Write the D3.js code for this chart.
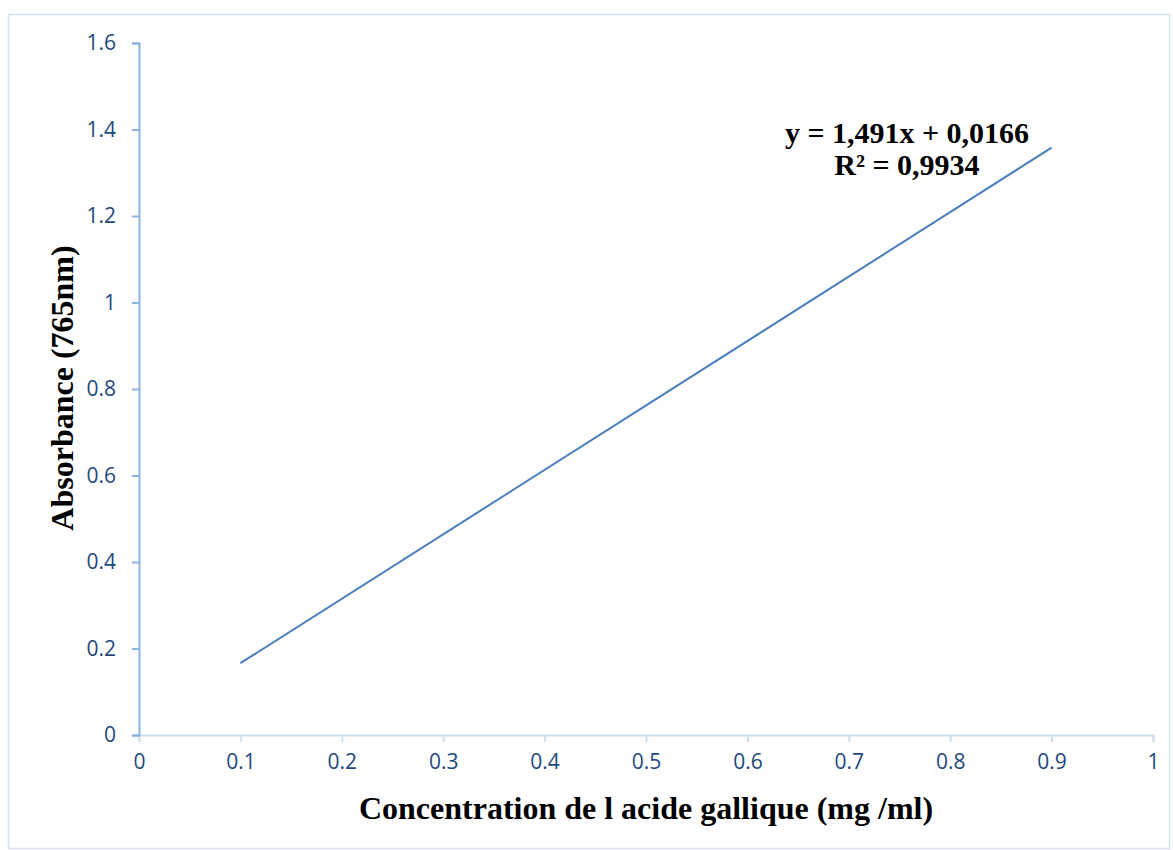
<!DOCTYPE html>
<html>
<head>
<meta charset="UTF-8">
<title></title>
<script src="https://cdn.jsdelivr.net/npm/d3@7"></script>
<style>
  body { margin: 0; background: #fff; }
</style>
</head>
<body>
<div id="chart"></div>
<script>
// data
var xValues = [0.1, 0.9];
var yValues = [0.166, 1.358];
var xTicks = [0, 0.1, 0.2, 0.3, 0.4, 0.5, 0.6, 0.7, 0.8, 0.9, 1];
var yTicks = [0, 0.2, 0.4, 0.6, 0.8, 1, 1.2, 1.4, 1.6];
var equationLines = ["y = 1,491x + 0,0166", "R\u00b2 = 0,9934"];
var xTitle = "Concentration de l acide gallique (mg /ml)";
var yTitle = "Absorbance (765nm)";

var width = 1173, height = 850;
var margin = { left: 139, right: 20, top: 43, bottom: 115 };

var svg = d3.select("#chart").append("svg")
  .attr("width", width).attr("height", height);

// outer border
svg.append("rect")
  .attr("x", 8.5).attr("y", 14.5)
  .attr("width", width - 12).attr("height", height - 16)
  .attr("fill", "none").attr("stroke", "#d3e1f2").attr("stroke-width", 1.5);

var xScale = d3.scaleLinear().domain([0, 1]).range([margin.left, 1153]);
var yScale = d3.scaleLinear().domain([0, 1.6]).range([735, margin.top]);

var fmt = function (d) { return String(d); };

// x axis
var gx = svg.append("g")
  .attr("transform", "translate(0," + yScale(0) + ")")
  .call(d3.axisBottom(xScale).tickValues(xTicks).tickFormat(fmt).tickSize(7).tickPadding(12));
gx.select(".domain").attr("stroke", "#d0def1").attr("stroke-width", 2);
gx.selectAll(".tick line").attr("stroke", "#d0def1").attr("stroke-width", 2);

// y axis
var gy = svg.append("g")
  .attr("transform", "translate(" + xScale(0) + ",0)")
  .call(d3.axisLeft(yScale).tickValues(yTicks).tickFormat(fmt).tickSize(7).tickPadding(16));
gy.select(".domain").attr("stroke", "#8db3e2").attr("stroke-width", 2);
gy.selectAll(".tick line").attr("stroke", "#8db3e2").attr("stroke-width", 2);

svg.selectAll(".tick text")
  .attr("fill", "#1f497d")
  .style("font-family", "'Open Sans', 'Noto Sans', sans-serif")
  .style("font-size", "21px");

// line
var line = d3.line()
  .x(function (d, i) { return xScale(xValues[i]); })
  .y(function (d) { return yScale(d); });
svg.append("path")
  .datum(yValues)
  .attr("d", line)
  .attr("fill", "none")
  .attr("stroke", "#4a7ebb")
  .attr("stroke-width", 2);

// equation
svg.append("g").selectAll("text").data(equationLines).enter().append("text")
  .attr("x", 907)
  .attr("y", function (d, i) { return 143 + i * 32; })
  .attr("text-anchor", "middle")
  .style("font-family", "'Liberation Serif', 'Times New Roman', serif")
  .style("font-weight", "bold")
  .style("font-size", "30px")
  .text(function (d) { return d; });

// axis titles
svg.append("text")
  .attr("x", 646).attr("y", 819)
  .attr("text-anchor", "middle")
  .style("font-family", "'Liberation Serif', 'Times New Roman', serif")
  .style("font-weight", "bold")
  .style("font-size", "32px")
  .text(xTitle);

svg.append("text")
  .attr("transform", "translate(73,388) rotate(-90)")
  .attr("text-anchor", "middle")
  .style("font-family", "'Liberation Serif', 'Times New Roman', serif")
  .style("font-weight", "bold")
  .style("font-size", "32px")
  .text(yTitle);
</script>
</body>
</html>
